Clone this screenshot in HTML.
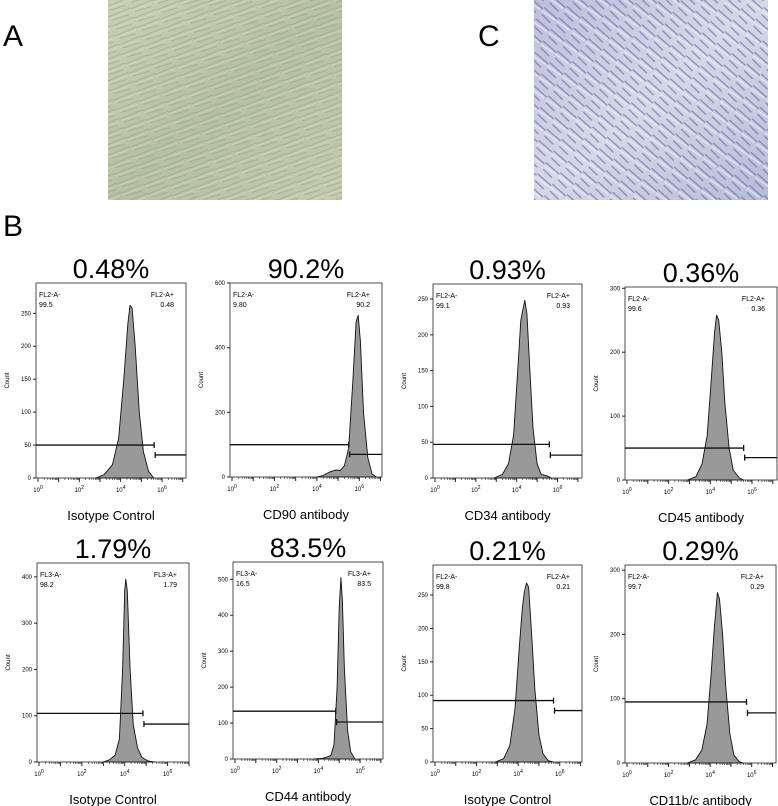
<!DOCTYPE html>
<html><head><meta charset="utf-8">
<style>
body{margin:0;background:#fff;width:778px;height:806px;overflow:hidden;font-family:"Liberation Sans",sans-serif}
svg{position:absolute;left:0;top:0}
</style></head>
<body>
<svg id="fig" width="778" height="806" viewBox="0 0 778 806">
<defs>
<linearGradient id="gA" x1="0" y1="0" x2="1" y2="1"><stop offset="0" stop-color="#c9cfb4"/><stop offset="0.5" stop-color="#b7c0a2"/><stop offset="1" stop-color="#c4cbb0"/></linearGradient>
<pattern id="pA" width="24" height="10" patternUnits="userSpaceOnUse" patternTransform="rotate(-20)">
<path d="M0 3 L24 2 M3 7 L20 8" stroke="#8f9a80" stroke-width="0.8" fill="none" opacity="0.7"/>
<path d="M0 5 L22 5" stroke="#e3e6d4" stroke-width="0.7" opacity="0.6"/></pattern>
<linearGradient id="gC" x1="0" y1="0" x2="1" y2="1"><stop offset="0" stop-color="#b9bfdc"/><stop offset="0.5" stop-color="#d5d9e6"/><stop offset="1" stop-color="#b5bbd8"/></linearGradient>
<pattern id="pC" width="18" height="14" patternUnits="userSpaceOnUse" patternTransform="rotate(35)">
<path d="M0 2 L18 4 M2 9 L14 11" stroke="#6a68a8" stroke-width="1.2" fill="none" opacity="0.7"/>
<path d="M0 6 L16 6" stroke="#eef0f2" stroke-width="1.5" opacity="0.7"/></pattern>
</defs>
<text x="3" y="46" font-size="30">A</text>
<g><rect x="108" y="0" width="234" height="200" fill="url(#gA)"/><rect x="108" y="0" width="234" height="200" fill="url(#pA)"/></g>
<text x="478" y="46" font-size="30">C</text>
<g><rect x="534" y="0" width="234" height="200" fill="url(#gC)"/><rect x="534" y="0" width="234" height="200" fill="url(#pC)"/></g>
<text x="3" y="236" font-size="30">B</text>
<g id="charts"></g>
</svg>
<script>
const percents=["0.48%","90.2%","0.93%","0.36%","1.79%","83.5%","0.21%","0.29%"];
const xLabels=["Isotype Control","CD90 antibody","CD34 antibody","CD45 antibody","Isotype Control","CD44 antibody","Isotype Control","CD11b/c antibody"];
const channels=["FL2","FL2","FL2","FL2","FL3","FL3","FL2","FL2"];
const negVals=["99.5","9.80","99.1","99.6","98.2","16.5","99.8","99.7"];
const posVals=["0.48","90.2","0.93","0.36","1.79","83.5","0.21","0.29"];
const histLogs=[
[2.8,3.2,3.6,3.9,4.15,4.35,4.45,4.55,4.7,4.9,5.1,5.35,5.6],
[4.0,4.3,4.6,4.9,5.1,5.3,5.5,5.7,5.85,5.95,6.05,6.2,6.4,6.6,6.8],
[2.9,3.3,3.6,3.85,4.05,4.2,4.3,4.4,4.5,4.65,4.8,5.0,5.2,5.5,5.7],
[2.9,3.3,3.6,3.85,4.05,4.2,4.3,4.4,4.55,4.7,4.9,5.1,5.4,5.6],
[3.0,3.3,3.55,3.75,3.9,4.0,4.05,4.12,4.25,4.4,4.6,4.8,5.1,5.4],
[3.8,4.2,4.4,4.6,4.75,4.9,5.0,5.08,5.15,5.25,5.4,5.55,5.75],
[2.9,3.3,3.6,3.85,4.05,4.2,4.3,4.4,4.5,4.65,4.8,5.0,5.2,5.45,5.7],
[2.9,3.3,3.6,3.85,4.05,4.2,4.35,4.45,4.6,4.75,4.95,5.15,5.4,5.6]];
const histCounts=[
[0,5,20,60,150,235,262,258,200,100,40,10,0],
[0,5,15,22,20,35,90,300,480,500,420,200,60,10,0],
[0,5,20,60,150,220,235,248,230,150,70,20,5,3,0],
[0,5,25,70,160,230,258,250,200,120,50,15,3,0],
[0,5,15,50,200,370,395,370,200,80,30,10,2,0],
[0,2,5,10,40,200,420,505,440,250,80,20,0],
[0,5,25,80,170,230,255,268,262,190,110,40,12,2,0],
[0,5,20,60,140,210,265,255,200,120,45,12,2,0]];
const yTicks=[[0,50,100,150,200,250],[0,200,400,600],[0,50,100,150,200,250],[0,100,200,300],[0,100,200,300,400],[0,100,200,300,400,500],[0,50,100,150,200,250],[0,100,200,300]];
const gateLogs=[5.62,5.5,5.6,5.6,4.85,4.83,5.7,5.75];
const gateLeftY=[50,100,47,50,105,133,92,95];
const gateRightY=[35,70,32,35,82,103,77,78];
const xTickExps=[0,2,4,6];

// layout (pixels, not data)
const boxes=[[36,283,186,478],[230,283,382,477],[433,284,582,478],[625,287,777,480],[37,563,189,762],[233,562,383,759],[433,565,582,762],[625,565,776,763]];
const logMaxes=[7.16,7.07,7.2,7.2,7.0,7.1,7.07,7.17];
const yMaxes=[296,600,271,302,430,548,295,308];

const NS="http://www.w3.org/2000/svg";
const root=document.getElementById('charts');
function mk(tag,attrs,parent){const e=document.createElementNS(NS,tag);for(const k in attrs)e.setAttribute(k,attrs[k]);parent.appendChild(e);return e;}

for(let i=0;i<8;i++){
  const [x0,y0,x1,y1]=boxes[i];
  const xs=l=>x0+2+(x1-x0-2)*l/logMaxes[i];
  const ys=v=>y1-(y1-y0)*v/yMaxes[i];
  const g=mk('g',{},root);
  
  
  const cx=(x0+x1)/2;
  const pt=mk('text',{x:cx,y:y0-5,'font-size':27,'text-anchor':'middle'},g);pt.textContent=percents[i];
  
  
  const xl=mk('text',{x:cx,y:y1+42,'font-size':13,'text-anchor':'middle'},g);xl.textContent=xLabels[i];
  
  
  const cnt=mk('text',{x:0,y:0,'font-size':6,'text-anchor':'middle',transform:`translate(${x0-27},${(y0+y1)/2}) rotate(-90)`},g);cnt.textContent='Count';
  
  
  // histogram
  let d='M'+xs(histLogs[i][0])+' '+ys(0);
  histLogs[i].forEach((l,j)=>{d+=' L'+xs(l).toFixed(1)+' '+ys(histCounts[i][j]).toFixed(1);});
  d+=' L'+xs(histLogs[i][histLogs[i].length-1])+' '+ys(0)+' Z';
  const h=mk('path',{d:d,fill:'#999',stroke:'#111','stroke-width':0.9,'stroke-linejoin':'round'},g);
  
  
  // box
  const b=mk('rect',{x:x0,y:y0,width:x1-x0,height:y1-y0,fill:'none',stroke:'#222','stroke-width':0.8},g);
  
  
  // y ticks
  yTicks[i].forEach(v=>{
    const y=ys(v);
    mk('line',{x1:x0-3,x2:x0,y1:y,y2:y,stroke:'#222','stroke-width':1},g);
    const t=mk('text',{x:x0-5,y:y+2,'font-size':6,'text-anchor':'end'},g);t.textContent=v;
    
    
  });
  // x ticks
  for(let e=0;e<=Math.floor(logMaxes[i]);e++){
    const x=xs(e);
    mk('line',{x1:x,x2:x,y1:y1,y2:y1+4,stroke:'#222','stroke-width':1},g);
    for(let m=2;m<10;m++){const xm=xs(e+Math.log10(m));if(xm<x1)mk('line',{x1:xm,x2:xm,y1:y1,y2:y1+2,stroke:'#222','stroke-width':0.6},g);}
  }
  xTickExps.forEach(e=>{
    const t=mk('text',{x:xs(e),y:y1+14,'font-size':6,'text-anchor':'middle'},g);
    
    
    t.textContent='10';
    const s=mk('tspan',{dy:-3,'font-size':5},t);s.textContent=e;
  });
  // gate labels
  const n1=mk('text',{x:x0+3,y:y0+14,'font-size':7},g);n1.textContent=channels[i]+'-A-';
  
  
  const n2=mk('text',{x:x0+3,y:y0+24,'font-size':7},g);n2.textContent=negVals[i];
  
  
  const p1=mk('text',{x:x1-12,y:y0+14,'font-size':7,'text-anchor':'end'},g);p1.textContent=channels[i]+'-A+';
  
  
  const p2=mk('text',{x:x1-12,y:y0+24,'font-size':7,'text-anchor':'end'},g);p2.textContent=posVals[i];
  
  
  // gates
  const gx=xs(gateLogs[i]);
  const gl=ys(gateLeftY[i]),gr=ys(gateRightY[i]);
  const gn=mk('path',{d:`M${x0} ${gl} L${gx} ${gl} M${gx} ${gl-3} L${gx} ${gl+3}`,stroke:'#111','stroke-width':1.3,fill:'none'},g);
  
  
  const gp=mk('path',{d:`M${gx+1} ${gr} L${x1} ${gr} M${gx+1} ${gr-3} L${gx+1} ${gr+3}`,stroke:'#111','stroke-width':1.3,fill:'none'},g);
  
  
}
</script>
</body></html>
